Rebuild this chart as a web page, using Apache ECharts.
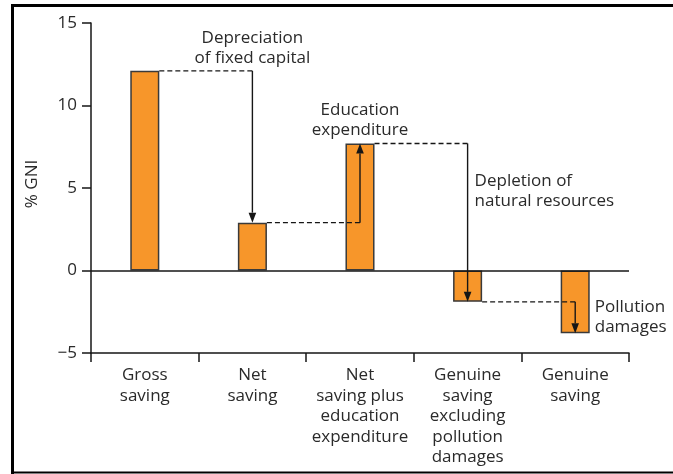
<!DOCTYPE html>
<html><head><meta charset="utf-8">
<script src="https://cdn.jsdelivr.net/npm/echarts@6/dist/echarts.min.js"></script>
<style>html,body{margin:0;padding:0;background:#fff}#c{width:673px;height:474px}</style>
</head><body><div id="c"></div>
<script>
const categories = ['Gross\nsaving','Net\nsaving','Net\nsaving plus\neducation\nexpenditure','Genuine\nsaving\nexcluding\npollution\ndamages','Genuine\nsaving'];
const values = [12.1, 2.9, 7.7, -1.9, -3.8];
const stepLabels = ['Depreciation\nof fixed capital','Education\nexpenditure','Depletion of\nnatural resources','Pollution\ndamages'];
const yTicks = [-5, 0, 5, 10, 15];

const FONT = 'Open Sans';
const FS = 17;
const TEXT = '#2a2a2a';
const INK = '#161616';
const BAR_FRAC = 0.27;

const steps = values.slice(0, -1).map((v, i) => [i, v, values[i + 1]]);

const chart = echarts.init(document.getElementById('c'), null, {renderer: 'canvas'});

function renderStep(params, api) {
  const k = params.dataIndex;
  const i = api.value(0), vFrom = api.value(1), vTo = api.value(2);
  const p0 = api.coord([i, vFrom]);
  const p1 = api.coord([i + 1, vFrom]);
  const p2 = api.coord([i + 1, vTo]);
  const bw = api.size([1, 0])[0] * BAR_FRAC;
  const x0 = p0[0] + bw / 2;
  const xa = p1[0];
  const dir = p2[1] > p1[1] ? 1 : -1;
  const ah = 10, aw = 3.8;
  const tipY = p2[1];
  const baseY = tipY - dir * ah;
  const topY = Math.min(p1[1], p2[1]);
  let tx, ty, align;
  if (k <= 1) { tx = xa; ty = topY - 23; align = 'center'; }
  else if (k === 2) { tx = xa + 7; ty = topY + 48; align = 'left'; }
  else { tx = xa + bw / 2 + 5; ty = (p1[1] + p2[1]) / 2; align = 'left'; }
  return {
    type: 'group',
    children: [
      {type: 'line', shape: {x1: x0, y1: p0[1], x2: xa, y2: p1[1]},
       style: {stroke: INK, lineWidth: 1.4, lineDash: [5, 3]}},
      {type: 'line', shape: {x1: xa, y1: p1[1], x2: xa, y2: baseY},
       style: {stroke: INK, lineWidth: 1.4}},
      {type: 'polygon', shape: {points: [[xa, tipY], [xa - aw, baseY], [xa + aw, baseY]]},
       style: {fill: INK}},
      {type: 'text', x: tx, y: ty,
       style: {text: stepLabels[k], fill: TEXT, font: FS + 'px "' + FONT + '"', align: align,
               verticalAlign: 'middle', lineHeight: 20}}
    ]
  };
}

chart.setOption({
  animation: false,
  textStyle: {fontFamily: FONT},
  grid: {left: 91, right: 44, top: 23, bottom: 121, containLabel: false},
  xAxis: {
    type: 'category', data: categories,
    axisLine: {onZero: false, lineStyle: {color: INK, width: 1.5}},
    axisTick: {show: true, length: 9, lineStyle: {color: INK, width: 1.5}},
    axisLabel: {interval: 0, fontSize: FS, lineHeight: 20.5, color: TEXT, margin: 12, fontFamily: FONT}
  },
  yAxis: {
    type: 'value', min: yTicks[0], max: yTicks[yTicks.length - 1], interval: 5,
    name: '% GNI', nameLocation: 'middle', nameRotate: 90, nameGap: 50,
    nameTextStyle: {fontSize: FS, color: TEXT, fontFamily: FONT, padding: [0, 0, 0, 8]},
    axisLine: {show: true, lineStyle: {color: INK, width: 1.5}},
    axisTick: {show: true, length: 9, lineStyle: {color: INK, width: 1.5}},
    splitLine: {show: false},
    axisLabel: {fontSize: FS, color: TEXT, margin: 14, fontFamily: FONT,
                formatter: v => v < 0 ? '\u2212' + Math.abs(v) : String(v)}
  },
  series: [
    {
      type: 'bar', data: values, barWidth: (BAR_FRAC * 100) + '%',
      itemStyle: {color: '#F7962A', borderColor: '#3a3a3a', borderWidth: 1.5},
      markLine: {
        silent: true, symbol: 'none', label: {show: false},
        lineStyle: {color: INK, type: 'solid', width: 1.5},
        data: [{yAxis: 0}]
      }
    },
    {
      type: 'custom', data: steps, encode: {x: 0, y: [1, 2]}, clip: false, z: 5,
      renderItem: renderStep
    }
  ],
  graphic: [
    {type: 'polyline', silent: true, shape: {points: [[12.5, 474], [12.5, 5.5], [673, 5.5]]},
     style: {stroke: '#000', lineWidth: 3, fill: null}},
    {type: 'line', silent: true, shape: {x1: 11, y1: 472.5, x2: 673, y2: 472.5},
     style: {stroke: '#000', lineWidth: 2}}
  ]
});
</script></body></html>
